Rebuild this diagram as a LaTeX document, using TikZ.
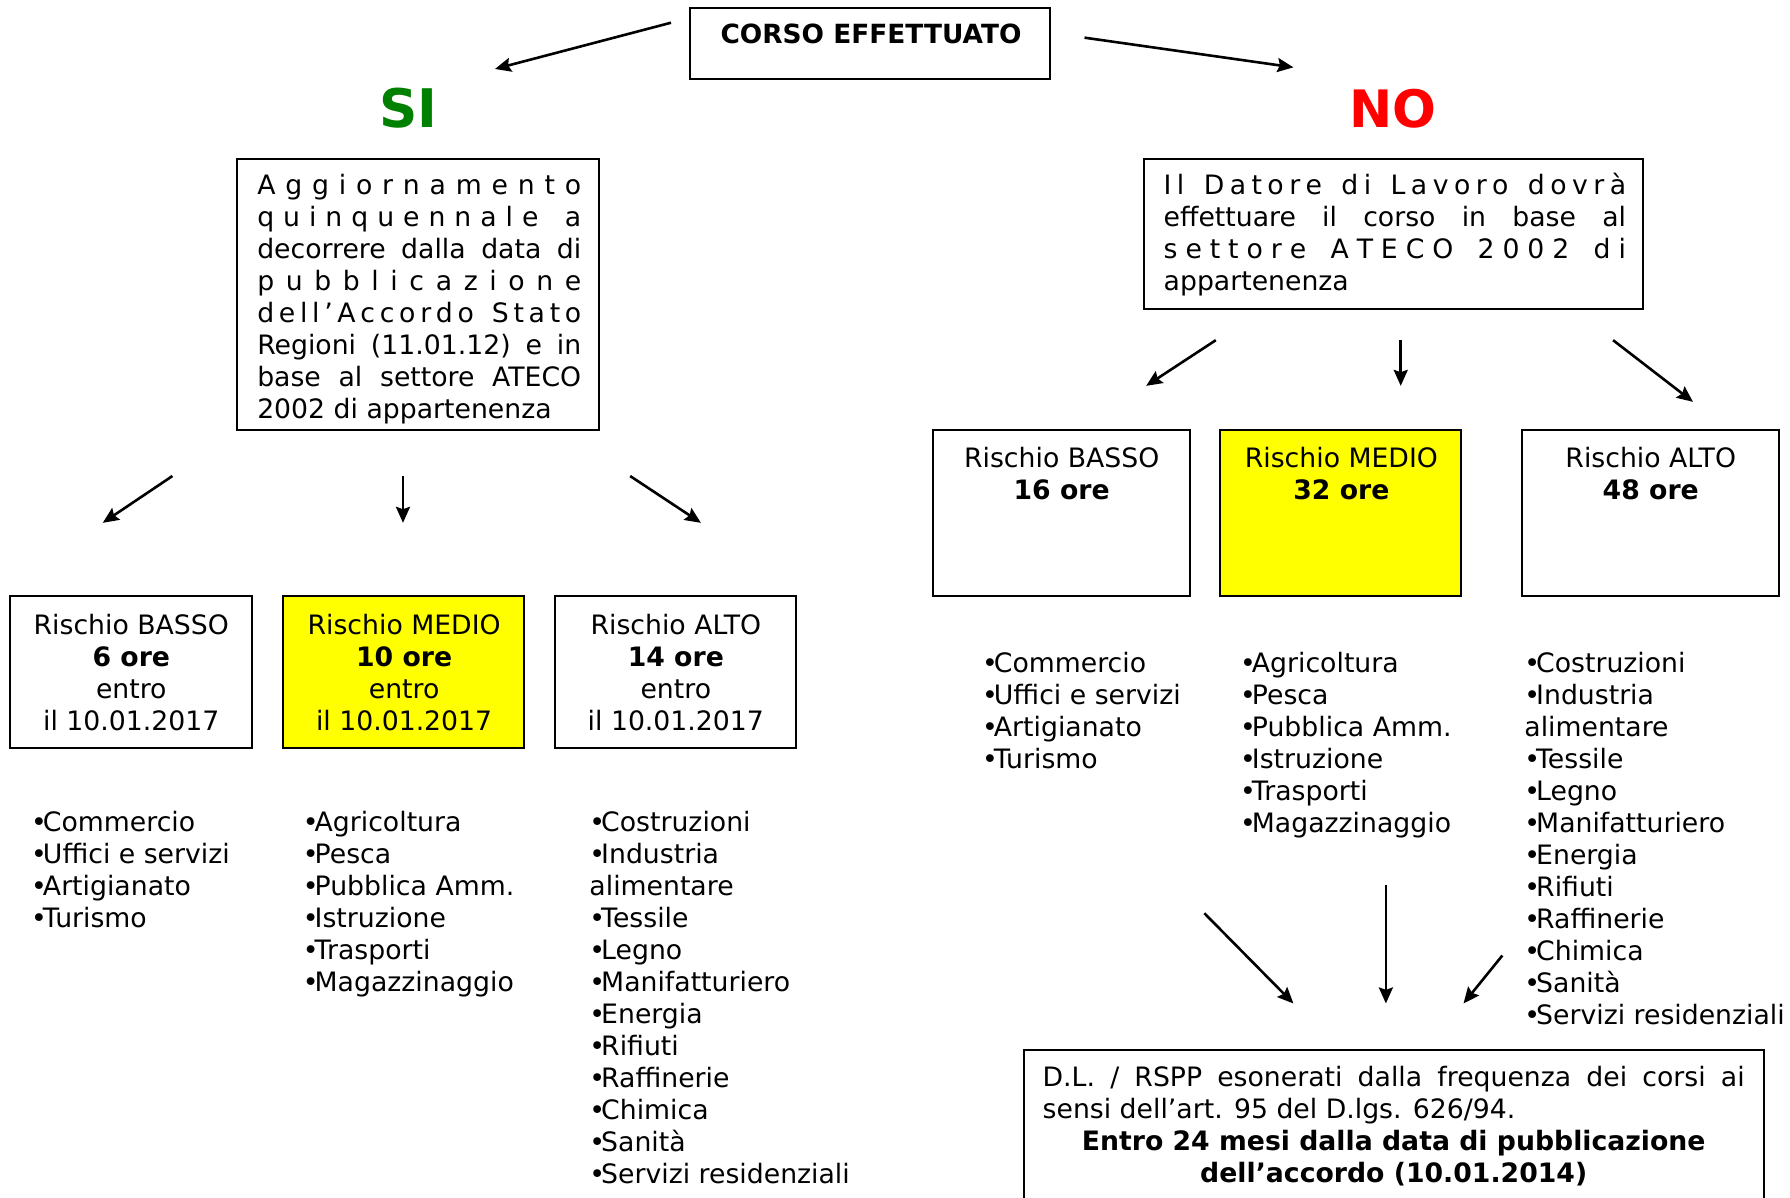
\documentclass[tikz,border=0pt]{standalone}
\usepackage{fontspec}
\setmainfont{DejaVu Sans}
\usetikzlibrary{arrows.meta,fit}
\newcommand\bodyfont{\fontsize{13.35}{16}\selectfont}
\newcommand\LS[1]{\hbox to\hsize{\spaceskip=0pt plus 1fil\relax #1}}
\newcommand\WS[1]{\hbox to\hsize{\spaceskip=\fontdimen2\font plus 1fil\relax #1}}
\newcommand\NL[1]{\hbox{#1}}
\newcommand\CL[1]{\hbox to\hsize{\hfil #1\hfil}}
\newcommand\WG{\kern\fontdimen2\font\ }
\newcommand\bul{•\kern-2pt}
\definecolor{sigreen}{RGB}{0,128,0}
\definecolor{boxyellow}{RGB}{255,255,0}
\begin{document}
\begin{tikzpicture}[x=0.5708pt,y=-0.5708pt,
  box/.style={draw=black, line width=1pt, inner sep=0pt},
  ybox/.style={box, fill=boxyellow},
  txt/.style={inner sep=0pt, font=\bodyfont, anchor=base},
  lst/.style={inner sep=0pt, font=\bodyfont, anchor=base west},
  arr/.style={line width=1.3pt, -{Stealth[length=8pt,width=7pt,inset=1.2pt]}},
  big/.style={inner sep=0pt, anchor=base, font=\fontsize{26.6}{30}\selectfont\bfseries}]
\useasboundingbox (0,0) rectangle (1568,1049);
\clip (0,0) rectangle (1568,1049);

% top
\node[box, fit={(604.4,7.3) (920,69.2)}] (top) {};
\node[txt, font=\fontsize{13.2}{16}\selectfont\bfseries] (toptext) at (763,38.5) {CORSO EFFETTUATO};

\node[big, text=sigreen] (si) at (358,112) {SI};
\node[big, text=red, font=\fontsize{25.8}{30}\selectfont\bfseries] (no) at (1220,112) {NO};

\coordinate (t1s) at (587.8,19.9); \coordinate (t1e) at (433.6,60.4);
\coordinate (t2s) at (950,33);     \coordinate (t2e) at (1133,59);
\draw[arr] (t1s) -- (t1e);
\draw[arr] (t2s) -- (t2e);

% left big box
\node[box, fit={(207.5,139) (525,377)}] (sibox) {};
\node[lst] (sitext) at (225,170.4) {\vtop{\hsize=162pt
  \LS{A g g i o r n a m e n t o}
  \LS{q u i n q u e n n a l e \WG a}
  \WS{decorrere dalla data di}
  \LS{p u b b l i c a z i o n e}
  \LS{d e l l ’ A c c o r d o \WG S t a t o}
  \WS{Regioni (11.01.12) e in}
  \WS{base al settore ATECO}
  \NL{2002 di appartenenza}}};

% right big box
\node[box, fit={(1002,139) (1439,271)}] (nobox) {};
\node[lst] (notext) at (1019,170.8) {\vtop{\hsize=231.2pt
  \LS{I l \WG D a t o r e \WG d i \WG L a v o r o \WG d o v r à}
  \WS{effettuare il corso in base al}
  \LS{s e t t o r e \WG A T E C O \WG 2 0 0 2 \WG d i}
  \NL{appartenenza}}};

% SI arrows
\coordinate (s1s) at (151,417); \coordinate (s1e) at (90,458);
\coordinate (s2s) at (353,417); \coordinate (s2e) at (353,458);
\coordinate (s3s) at (552,417); \coordinate (s3e) at (614,458);
\draw[arr] (s1s) -- (s1e);
\draw[arr] (s2s) -- (s2e);
\draw[arr] (s3s) -- (s3e);

% SI risk boxes
\node[box,  fit={(9,522.5) (220.5,655)}] (sib) {};
\node[ybox, fit={(248,522.5) (459,655)}] (sim) {};
\node[box,  fit={(486,522.5) (697,655)}] (sia) {};
\node[txt] (sibt) at (115,555.4) {\begin{tabular}[t]{@{}c@{}}Rischio BASSO\\\textbf{6 ore}\\entro\\il 10.01.2017\end{tabular}};
\node[txt] (simt) at (354,555.4) {\begin{tabular}[t]{@{}c@{}}Rischio MEDIO\\\textbf{10 ore}\\entro\\il 10.01.2017\end{tabular}};
\node[txt] (siat) at (592,555.4) {\begin{tabular}[t]{@{}c@{}}Rischio ALTO\\\textbf{14 ore}\\entro\\il 10.01.2017\end{tabular}};

% SI lists
\node[lst] (sil1) at (27,728.4) {\begin{tabular}[t]{@{}l@{}}\bul Commercio\\\bul Uffici e servizi\\\bul Artigianato\\\bul Turismo\end{tabular}};
\node[lst] (sil2) at (265,728.4) {\begin{tabular}[t]{@{}l@{}}\bul Agricoltura\\\bul Pesca\\\bul Pubblica Amm.\\\bul Istruzione\\\bul Trasporti\\\bul Magazzinaggio\end{tabular}};
\node[lst] (sil3) at (516,728.4) {\begin{tabular}[t]{@{}l@{}}\bul Costruzioni\\\bul Industria\\alimentare\\\bul Tessile\\\bul Legno\\\bul Manifatturiero\\\bul Energia\\\bul Rifiuti\\\bul Raffinerie\\\bul Chimica\\\bul Sanità\\\bul Servizi residenziali\end{tabular}};

% NO arrows
\coordinate (n1s) at (1065,298); \coordinate (n1e) at (1004,338);
\coordinate (n2s) at (1227,298); \coordinate (n2e) at (1227,338);
\coordinate (n3s) at (1413,298); \coordinate (n3e) at (1483,352);
\draw[arr] (n1s) -- (n1e);
\draw[arr] (n2s) -- (n2e);
\draw[arr] (n3s) -- (n3e);

% NO risk boxes
\node[box,  fit={(817,377) (1042,522)}] (nob) {};
\node[ybox, fit={(1069,377) (1280,522)}] (nom) {};
\node[box,  fit={(1333,377) (1558,522)}] (noa) {};
\node[txt] (nobt) at (930,409.4) {\begin{tabular}[t]{@{}c@{}}Rischio BASSO\\\textbf{16 ore}\end{tabular}};
\node[txt] (nomt) at (1175,409.4) {\begin{tabular}[t]{@{}c@{}}Rischio MEDIO\\\textbf{32 ore}\end{tabular}};
\node[txt] (noat) at (1446,409.4) {\begin{tabular}[t]{@{}c@{}}Rischio ALTO\\\textbf{48 ore}\end{tabular}};

% NO lists
\node[lst] (nol1) at (860,589.4) {\begin{tabular}[t]{@{}l@{}}\bul Commercio\\\bul Uffici e servizi\\\bul Artigianato\\\bul Turismo\end{tabular}};
\node[lst] (nol2) at (1086,589.4) {\begin{tabular}[t]{@{}l@{}}\bul Agricoltura\\\bul Pesca\\\bul Pubblica Amm.\\\bul Istruzione\\\bul Trasporti\\\bul Magazzinaggio\end{tabular}};
\node[lst] (nol3) at (1335,589.4) {\begin{tabular}[t]{@{}l@{}}\bul Costruzioni\\\bul Industria\\alimentare\\\bul Tessile\\\bul Legno\\\bul Manifatturiero\\\bul Energia\\\bul Rifiuti\\\bul Raffinerie\\\bul Chimica\\\bul Sanità\\\bul Servizi residenziali\end{tabular}};

% bottom arrows
\coordinate (b1s) at (1055,800); \coordinate (b1e) at (1133,879);
\coordinate (b2s) at (1214,775); \coordinate (b2e) at (1214,879);
\coordinate (b3s) at (1316,837); \coordinate (b3e) at (1282,879);
\draw[arr] (b1s) -- (b1e);
\draw[arr] (b2s) -- (b2e);
\draw[arr] (b3s) -- (b3e);

% bottom box
\node[box, fit={(897,920) (1545,1070)}] (dl) {};
\node[lst] (dltext) at (913,951.4) {\vtop{\hsize=351pt
  \WS{D.L. / RSPP esonerati dalla frequenza dei corsi ai}
  \NL{sensi dell’art. 95 del D.lgs. 626/94.}
  \CL{\bfseries Entro 24 mesi dalla data di pubblicazione}
  \CL{\bfseries dell’accordo (10.01.2014)}}};
\end{tikzpicture}
\end{document}
